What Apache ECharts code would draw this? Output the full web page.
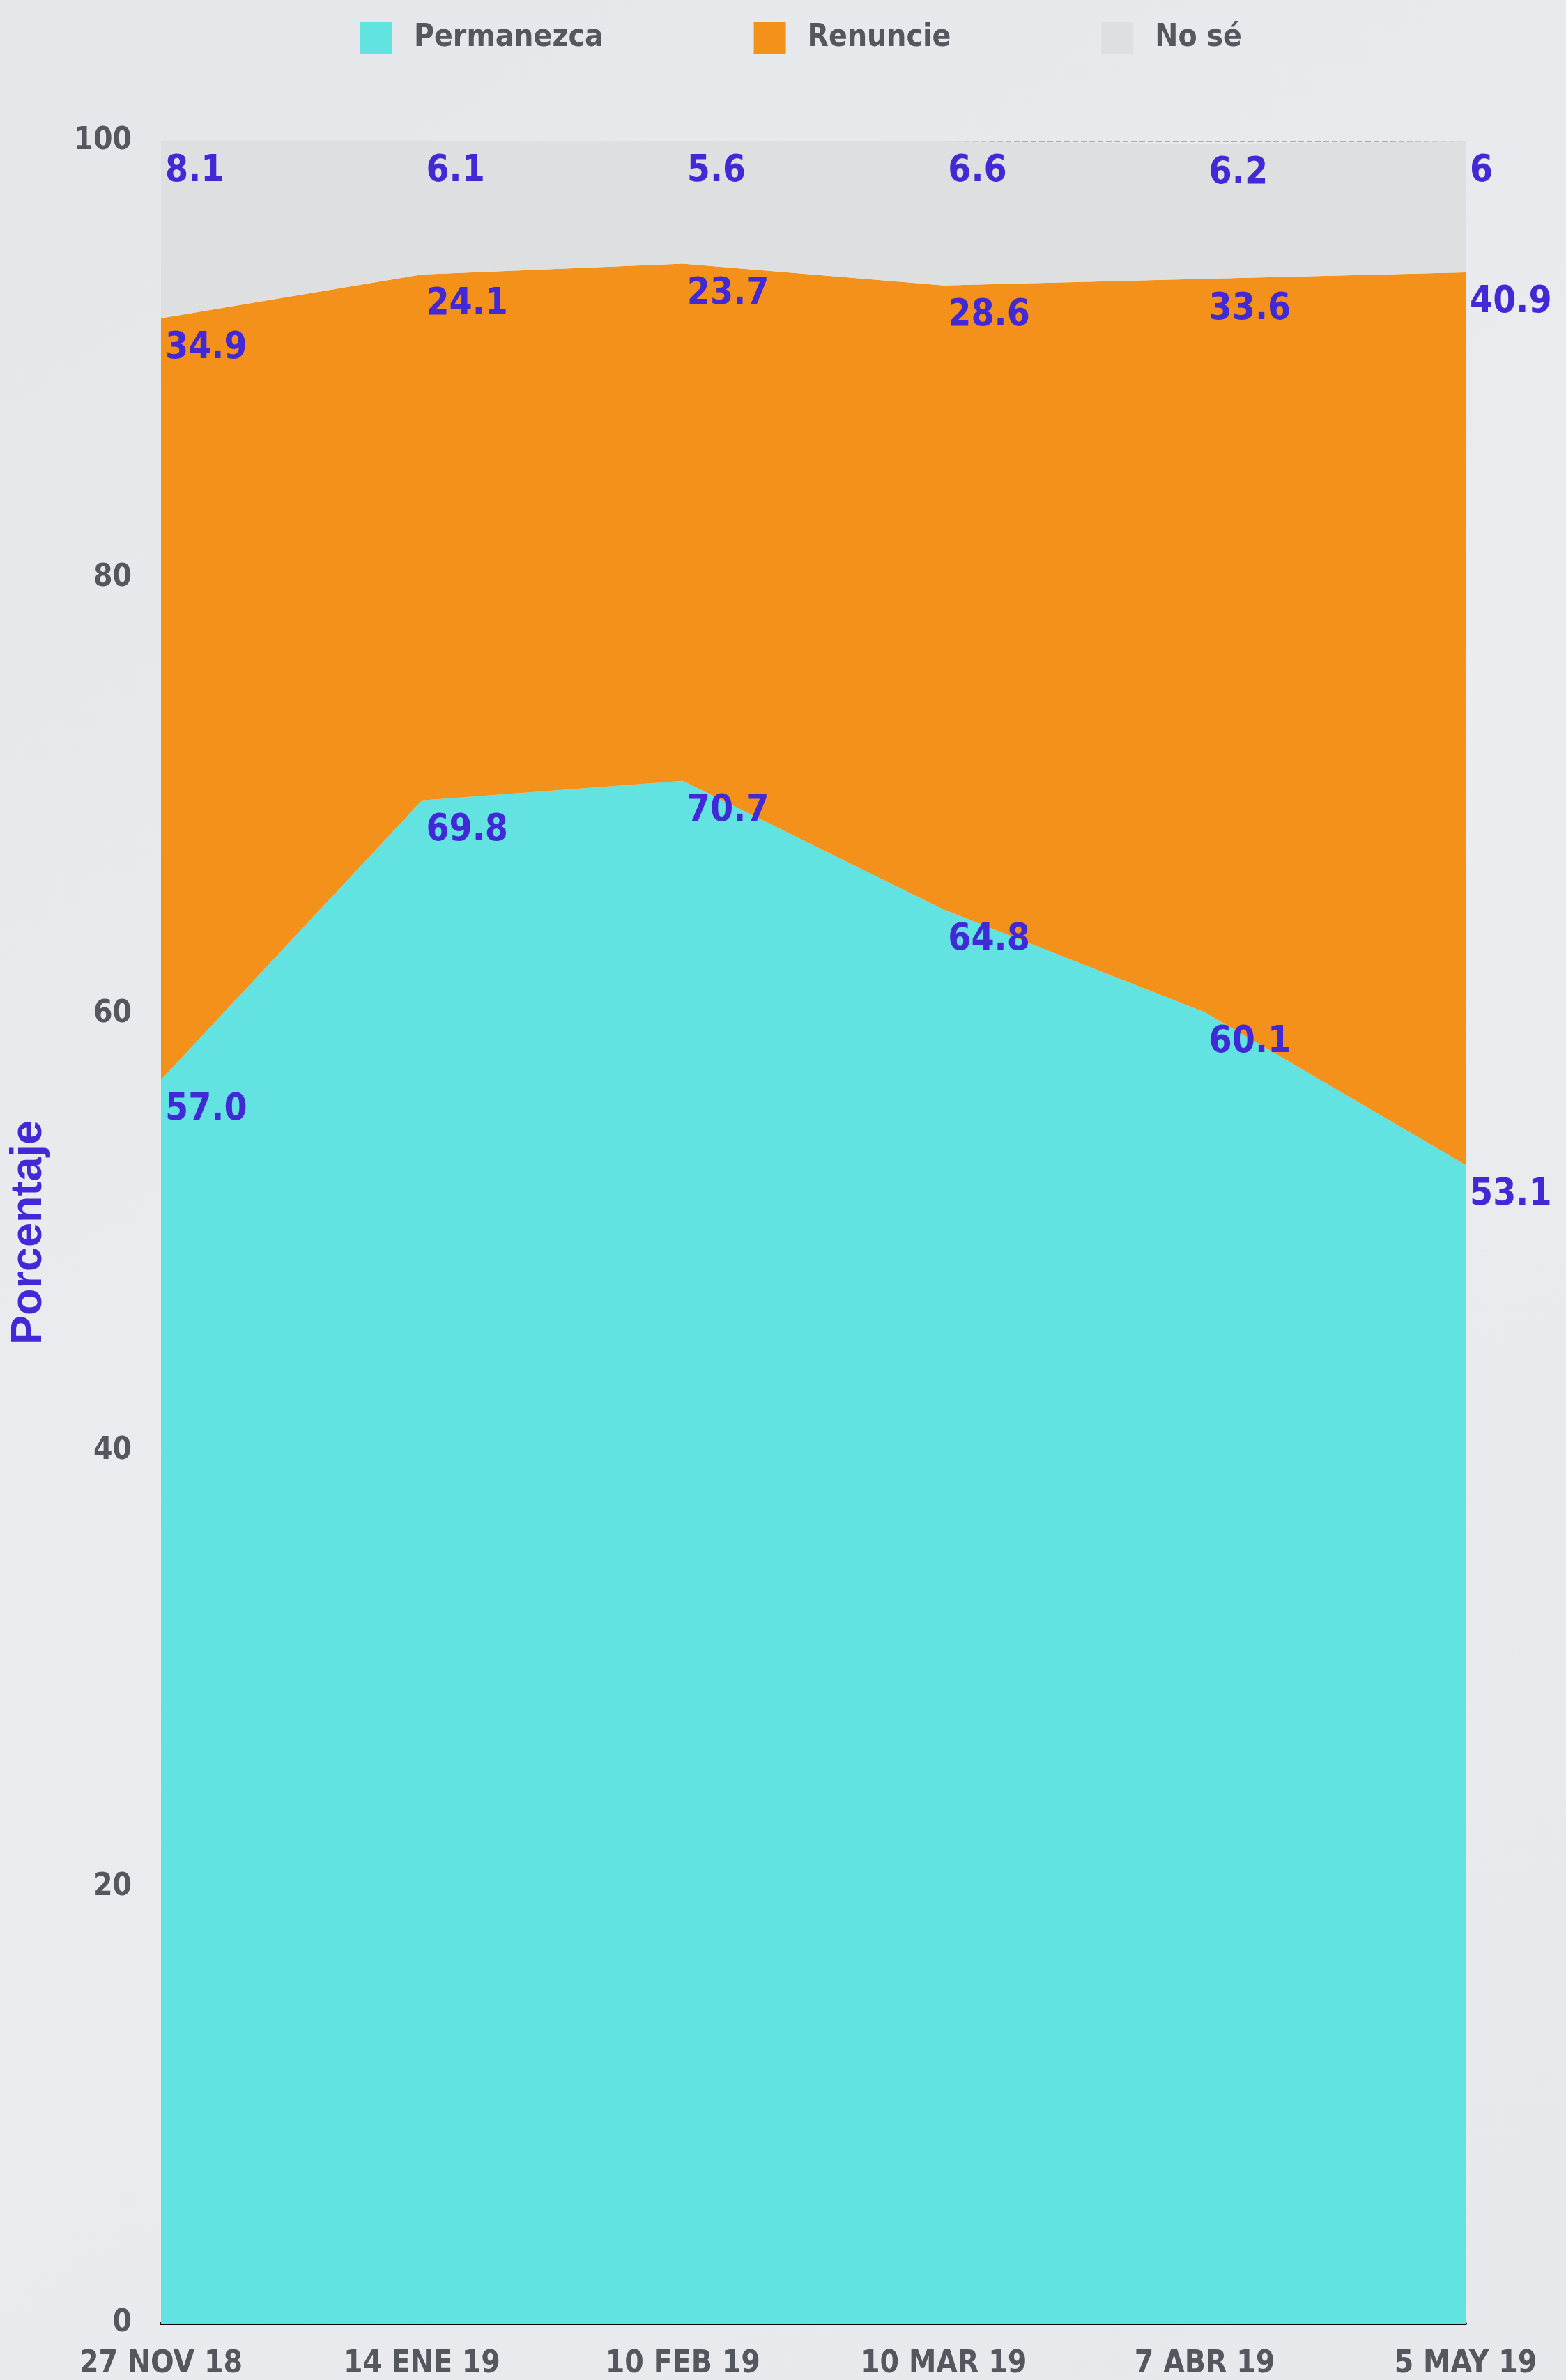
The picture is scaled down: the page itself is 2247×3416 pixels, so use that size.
<!DOCTYPE html>
<html>
<head>
<meta charset="utf-8">
<script src="https://cdn.jsdelivr.net/npm/echarts@6/dist/echarts.min.js"></script>
<style>
  html, body { margin: 0; padding: 0; }
  #chart { width: 2247px; height: 3416px; }
</style>
</head>
<body>
<div id="chart"></div>
<script>
// datos de la encuesta
var fechas = ['27 NOV 18', '14 ENE 19', '10 FEB 19', '10 MAR 19', '7 ABR 19', '5 MAY 19'];
var permanezca = [57.0, 69.8, 70.7, 64.8, 60.1, 53.1];
var renuncie = [34.9, 24.1, 23.7, 28.6, 33.6, 40.9];
var noSe = [8.1, 6.1, 5.6, 6.6, 6.2, 6];
var ticksY = [0, 20, 40, 60, 80, 100];

var azul = '#4229d6';
var gris = '#54585e';
var fuente = '"DejaVu Sans Condensed", "DejaVu Sans", sans-serif';

var myChart = echarts.init(document.getElementById('chart'));

function etiqueta(fmt) {
    return {
        show: true,
        position: [6, 17],
        align: 'left',
        verticalAlign: 'top',
        color: azul,
        fontFamily: fuente,
        fontWeight: 'bold',
        fontSize: 53,
        formatter: fmt
    };
}

function serie(nombre, datos, fmt) {
    return {
        name: nombre,
        type: 'line',
        stack: 'total',
        data: datos,
        symbol: 'circle',
        symbolSize: 0,
        showSymbol: true,
        lineStyle: { width: 0 },
        areaStyle: { opacity: 1 },
        label: etiqueta(fmt),
        emphasis: { disabled: true },
        animation: false
    };
}

option = {
    backgroundColor: {
        type: 'linear', x: 0, y: 0, x2: 1, y2: 1,
        colorStops: [
            { offset: 0, color: '#e4e7ea' },
            { offset: 0.5, color: '#eaecef' },
            { offset: 1, color: '#e6e8eb' }
        ]
    },
    color: ['#62e2e0', '#f3911a', '#dedfe1'],
    legend: {
        left: 512,
        top: 27,
        icon: 'rect',
        itemWidth: 46,
        itemHeight: 46,
        itemGap: 216,
        data: ['Permanezca', 'Renuncie', 'No sé'],
        textStyle: {
            color: gris,
            fontFamily: fuente,
            fontWeight: 'bold',
            fontSize: 44,
            padding: [0, 0, 0, 26]
        }
    },
    grid: { left: 231, right: 144, top: 203, bottom: 77 },
    xAxis: {
        type: 'category',
        boundaryGap: false,
        data: fechas,
        axisLine: { show: true, lineStyle: { color: '#000', width: 4 } },
        axisTick: { show: false },
        splitLine: { show: false },
        axisLabel: {
            color: gris,
            fontFamily: fuente,
            fontWeight: 'bold',
            fontSize: 44,
            margin: 37,
            interval: 0
        }
    },
    yAxis: {
        type: 'value',
        min: ticksY[0],
        max: ticksY[ticksY.length - 1],
        interval: 20,
        name: 'Porcentaje',
        nameLocation: 'middle',
        nameRotate: 90,
        nameGap: 158,
        nameTextStyle: {
            color: azul,
            fontFamily: '"Liberation Sans", Arial, sans-serif',
            fontWeight: 'bold',
            fontSize: 63
        },
        axisLine: { show: false },
        axisTick: { show: false },
        splitLine: { show: true, lineStyle: { color: '#a8abb0', type: 'dashed', width: 2 } },
        axisLabel: {
            color: gris,
            fontFamily: fuente,
            fontWeight: 'bold',
            fontSize: 44,
            margin: 42,
            padding: [10, 0, 0, 0]
        }
    },
    series: [
        serie('Permanezca', permanezca, function (p) { return p.value.toFixed(1); }),
        serie('Renuncie', renuncie),
        serie('No sé', noSe)
    ]
};

myChart.setOption(option);
</script>
</body>
</html>
